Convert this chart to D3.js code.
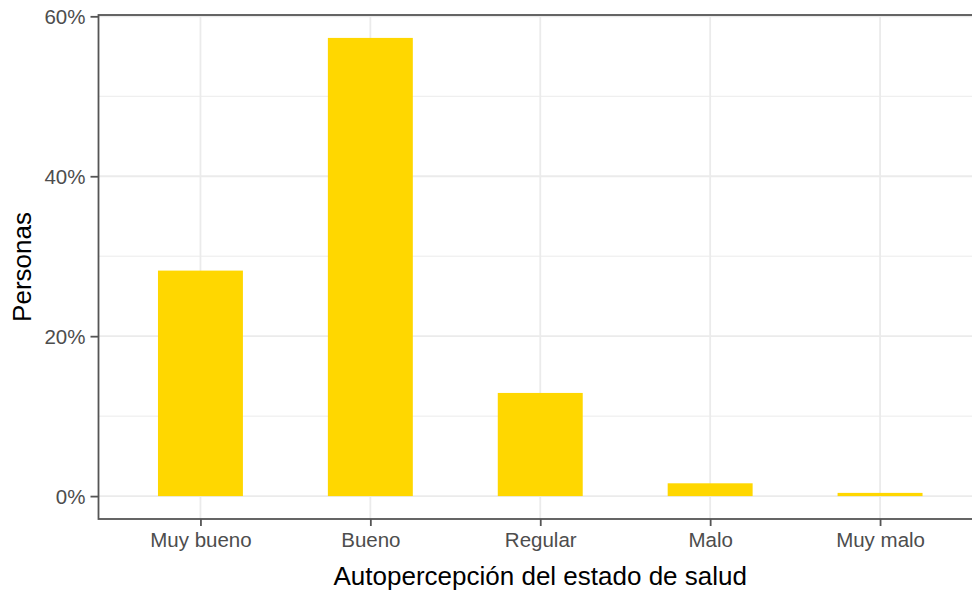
<!DOCTYPE html>
<html>
<head>
<meta charset="utf-8">
<script src="https://cdn.jsdelivr.net/npm/d3@7"></script>
<style>
html,body{margin:0;padding:0;background:#fff;}
svg{display:block;}
text{font-family:"Liberation Sans",Arial,sans-serif;}
</style>
</head>
<body>
<svg id="chart" width="972" height="592"></svg>
<script>
const categories = ["Muy bueno", "Bueno", "Regular", "Malo", "Muy malo"];
const values = [28.2, 57.3, 12.9, 1.6, 0.4];
const yTicks = [0, 20, 40, 60];
const yMinor = [10, 30, 50];
const xTitle = "Autopercepción del estado de salud";
const yTitle = "Personas";

const W = 972, H = 592;
const panel = {left: 98.5, right: 982, top: 15, bottom: 519};
const svg = d3.select("#chart");

const maxV = d3.max(values);
const exp = maxV * 0.05;
const y = d3.scaleLinear().domain([-exp, maxV + exp]).range([panel.bottom, panel.top]);
const x = d3.scalePoint().domain(categories).range([panel.left, panel.right]).padding(0.6);
const barW = x.step() * 0.5;

// grid
const g = svg.append("g");
g.selectAll("line.minor").data(yMinor).join("line")
  .attr("x1", panel.left).attr("x2", panel.right)
  .attr("y1", d => y(d)).attr("y2", d => y(d))
  .attr("stroke", "#ebebeb").attr("stroke-width", 1);
g.selectAll("line.major").data(yTicks).join("line")
  .attr("x1", panel.left).attr("x2", panel.right)
  .attr("y1", d => y(d)).attr("y2", d => y(d))
  .attr("stroke", "#ebebeb").attr("stroke-width", 1.8);
g.selectAll("line.vx").data(categories).join("line")
  .attr("x1", d => x(d)).attr("x2", d => x(d))
  .attr("y1", panel.top).attr("y2", panel.bottom)
  .attr("stroke", "#ebebeb").attr("stroke-width", 1.8);

// bars
svg.append("g").selectAll("rect").data(categories).join("rect")
  .attr("x", d => x(d) - barW / 2)
  .attr("width", barW)
  .attr("y", (d, i) => y(values[i]))
  .attr("height", (d, i) => y(0) - y(values[i]))
  .attr("fill", "#FFD700");

// panel border
svg.append("rect")
  .attr("x", panel.left).attr("y", panel.top)
  .attr("width", panel.right - panel.left).attr("height", panel.bottom - panel.top)
  .attr("fill", "none").attr("stroke", "#555").attr("stroke-width", 1.8);

// axes
const yAxis = d3.axisLeft(y).tickValues(yTicks).tickFormat(d => d + "%").tickSize(8).tickPadding(5);
const ya = svg.append("g").attr("transform", `translate(${panel.left},0)`).call(yAxis);
ya.select(".domain").remove();
ya.selectAll(".tick line").attr("stroke", "#555").attr("stroke-width", 1.8);
ya.selectAll(".tick text").attr("fill", "#4d4d4d").style("font-size", "20.5px").attr("dy", "0.36em");

const xAxis = d3.axisBottom(x).tickSize(7).tickPadding(6);
const xa = svg.append("g").attr("transform", `translate(0,${panel.bottom})`).call(xAxis);
xa.select(".domain").remove();
xa.selectAll(".tick line").attr("stroke", "#555").attr("stroke-width", 1.8);
xa.selectAll(".tick text").attr("fill", "#4d4d4d").style("font-size", "20.5px");
d3.selectAll("g[font-family]").attr("font-family", null);

// titles
svg.append("text").attr("x", (panel.left + panel.right) / 2).attr("y", 585)
  .attr("text-anchor", "middle").style("font-size", "26px").attr("fill", "#000")
  .text(xTitle);
svg.append("text").attr("transform", `translate(31,${(panel.top + panel.bottom) / 2}) rotate(-90)`)
  .attr("text-anchor", "middle").style("font-size", "26px").attr("fill", "#000")
  .text(yTitle);
</script>
</body>
</html>
